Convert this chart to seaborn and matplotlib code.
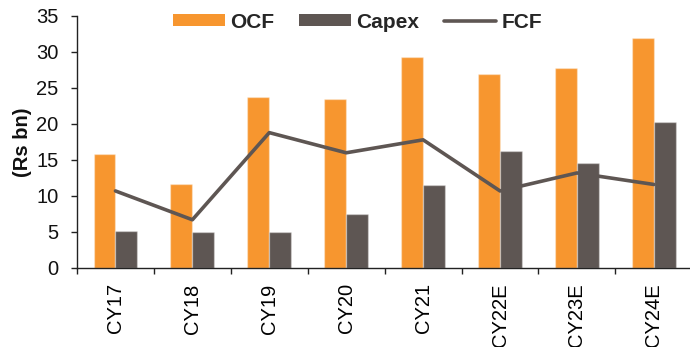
import numpy as np
import pandas as pd
import matplotlib
matplotlib.use("Agg")
import matplotlib.pyplot as plt
from matplotlib.patches import Patch
from matplotlib.lines import Line2D
from matplotlib.ticker import FixedLocator, MultipleLocator
import seaborn as sns

# Cash-flow data (Rs bn)
years = ["CY17", "CY18", "CY19", "CY20", "CY21", "CY22E", "CY23E", "CY24E"]
ocf = [15.9, 11.7, 23.8, 23.5, 29.3, 26.9, 27.8, 31.9]
capex = [5.2, 5.0, 5.0, 7.5, 11.5, 16.2, 14.6, 20.3]
fcf = [10.7, 6.7, 18.8, 16.0, 17.8, 10.7, 13.2, 11.6]

ORANGE = "#F7962F"
GREY = "#5E5653"

sns.set_theme(style="white")
plt.rcParams["font.family"] = ["Liberation Sans", "DejaVu Sans"]

bars = pd.DataFrame({"year": years, "OCF": ocf, "Capex": capex}).melt(
    id_vars="year", var_name="series", value_name="value")

fig = plt.figure(figsize=(6.9, 3.47), dpi=100)
ax = fig.add_axes([0.1116, 0.2277, 1.0 - 0.1116, 0.9539 - 0.2277])

sns.barplot(data=bars, x="year", y="value", hue="series",
            hue_order=["OCF", "Capex"], order=years,
            palette={"OCF": ORANGE, "Capex": GREY}, saturation=1,
            width=0.57, edgecolor=(1, 1, 1, 0.35), linewidth=1.0,
            errorbar=None, legend=False, ax=ax)

sns.lineplot(x=np.arange(len(years)), y=fcf, color=GREY, linewidth=2.6,
             ax=ax, legend=False)

ax.set_xlim(-0.5, 7.47)
ax.set_ylim(0, 35)
ax.yaxis.set_major_locator(MultipleLocator(5))

# category labels at centres, tick marks at category boundaries
ax.set_xticks(np.arange(len(years)))
ax.set_xticklabels(years, rotation=90, fontsize=14.5, color="#000000")
ax.xaxis.set_minor_locator(FixedLocator(np.arange(-0.5, len(years) + 0.5, 1)))
ax.tick_params(axis="x", which="major", length=0, pad=11)
ax.tick_params(axis="x", which="minor", length=4.5, width=1.0,
               direction="out", color="#222222", bottom=True)
ax.tick_params(axis="y", length=4.5, width=1.0, direction="out",
               color="#222222", left=True, labelsize=14.5, pad=9,
               labelcolor="#111111")

ax.set_xlabel("")
ax.set_ylabel("(Rs bn)", fontsize=14.5, fontweight="bold", labelpad=3,
              color="#111111")

for side in ("top", "right"):
    ax.spines[side].set_visible(False)
for side in ("left", "bottom"):
    ax.spines[side].set_color("#222222")
    ax.spines[side].set_linewidth(1.0)

handles = [Patch(facecolor=ORANGE, edgecolor="none"),
           Patch(facecolor=GREY, edgecolor="none"),
           Line2D([0], [0], color=GREY, linewidth=2.6)]
ax.legend(handles, ["OCF", "Capex", "FCF"], ncol=3, loc="center",
          bbox_to_anchor=(0.4576, 0.976), frameon=False,
          prop={"weight": "bold", "size": 15},
          handlelength=2.5, handleheight=0.5, handletextpad=0.25,
          columnspacing=1.2, borderaxespad=0, borderpad=0)

fig.savefig("out.png", dpi=100)
